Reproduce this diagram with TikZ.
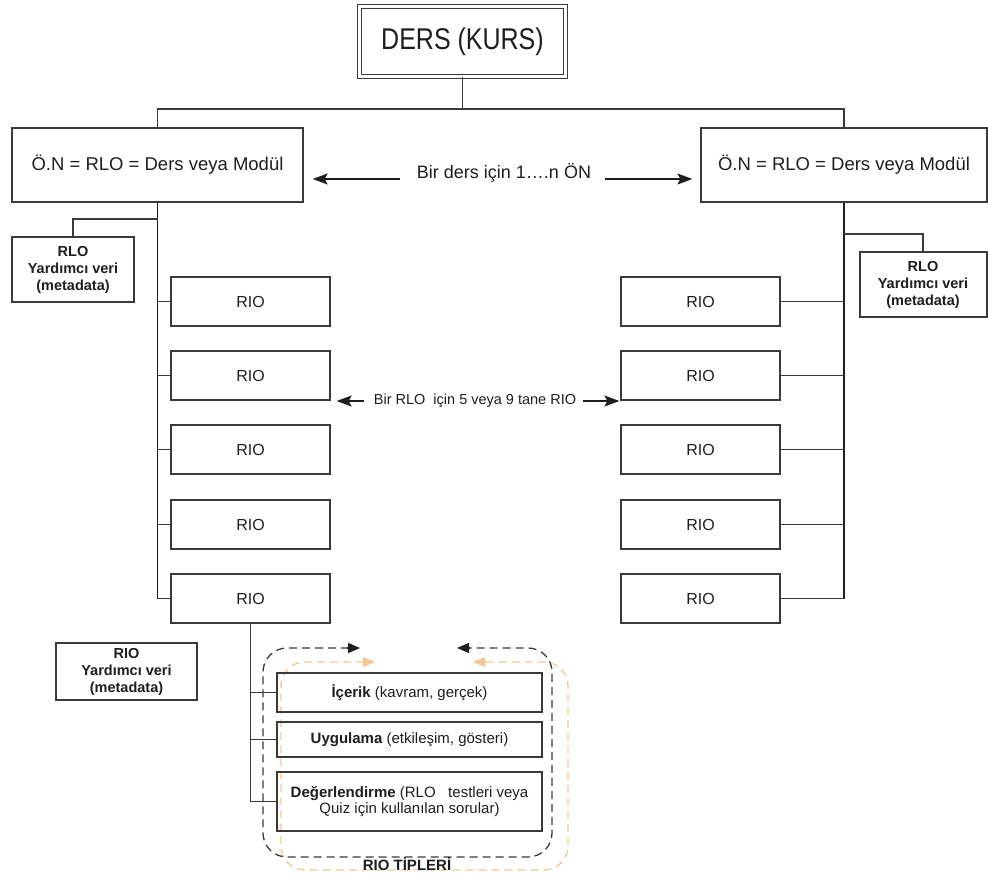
\documentclass[tikz,border=0pt]{standalone}
\usepackage{fontspec}
\usepackage{graphicx}
\setmainfont{Liberation Sans}
\usetikzlibrary{arrows.meta}

\definecolor{edge}{HTML}{3A3A3A}
\definecolor{ink}{HTML}{1E1E1E}
\definecolor{peach}{HTML}{F6C796}

\tikzset{
  box/.style={draw=edge, line width=1.3pt, fill=none, inner sep=0pt, align=center, text=ink},
  riobox/.style={box, minimum width=159pt, minimum height=49pt, font=\fontsize{16}{19}\selectfont},
  onbox/.style={box, minimum height=74pt, font=\fontsize{18.5}{22}\selectfont},
  metabox/.style={box, font=\bfseries\fontsize{14.5}{17}\selectfont},
  typebox/.style={box, minimum width=265pt, font=\fontsize{15}{16.5}\selectfont},
  trunk/.style={draw=ink, line width=1.6pt},
  branch/.style={draw=edge, line width=1.1pt},
  bigarrow/.style={draw=ink, line width=1.3pt, -{Stealth[length=15pt,width=11pt,inset=3pt]}},
  label/.style={text=ink, inner sep=0pt},
  loopblack/.style={draw=edge, line width=1.3pt, dash pattern=on 8pt off 5pt, rounded corners=24pt},
  looppeach/.style={draw=peach, line width=1.3pt, dash pattern=on 8pt off 5pt, rounded corners=24pt},
  tipblack/.style={draw=ink, line width=1.3pt, -{Triangle[length=12pt,width=10pt]}},
  tippeach/.style={draw=peach, line width=1.3pt, -{Triangle[length=12pt,width=10pt,fill=peach]}},
}

\begin{document}
\begin{tikzpicture}[x=1pt,y=-1pt]
\useasboundingbox (0,0) rectangle (988,875);

% course box at the top
\node[box, draw=edge, line width=1.2pt, double=white, double distance=2.4pt,
      minimum width=206pt, minimum height=70pt] (ders) at (462.5,41.5)
      {\scalebox{1}[1.2]{\fontsize{25}{30}\selectfont DERS (KURS)}};

% learning objects
\node[onbox, minimum width=291pt] (onL) at (157.5,165) {Ö.N = RLO = Ders veya Modül};
\node[onbox, minimum width=286pt] (onR) at (844,165) {Ö.N = RLO = Ders veya Modül};

\coordinate (top) at (462.5,109);
\draw[branch, line width=1.4pt] (ders.south) -- (top);
\draw[branch, line width=1.4pt] (onL.north) -- (onL.north |- top) -- (onR.north |- top) -- (onR.north);

% span label between the two objects
\node[label, font=\fontsize{18}{21}\selectfont] (lblON) at (504,173) {Bir ders için 1….n ÖN};
\coordinate (aL) at (400,179);
\coordinate (aR) at (605,179);
\draw[bigarrow, shorten >=9pt] (aL) -- (onL.east |- aL);
\draw[bigarrow, shorten >=8pt] (aR) -- (onR.west |- aR);

% metadata boxes of the learning objects
\node[metabox, line width=2pt, minimum width=122pt, minimum height=65pt] (metaL) at (73,269.5)
  {RLO\\Yardımcı veri\\(metadata)};
\node[metabox, line width=2pt, minimum width=127pt, minimum height=65pt] (metaR) at (923,284.5)
  {RLO\\Yardımcı veri\\(metadata)};

% reusable information objects
\foreach \i/\y in {1/301.5, 2/375.5, 3/449.5, 4/524.5, 5/598.5}{
  \node[riobox] (rioL\i) at (250.5,\y) {RIO};
  \node[riobox] (rioR\i) at (700.5,\y) {RIO};
}

% trunks and branches
\draw[trunk] (onL.south) -- (onL.south |- rioL5.west);
\draw[trunk] (onR.south) -- (onR.south |- rioR5.east);
\foreach \i in {1,...,5}{
  \draw[branch] (onL.south |- rioL\i.west) -- (rioL\i.west);
  \draw[branch] (rioR\i.east) -- (onR.south |- rioR\i.east);
}
\coordinate (jL) at (157.5,219);
\coordinate (jR) at (844,234);
\draw[branch] (jL) -| (metaL.north);
\draw[branch] (jR) -| (metaR.north);

% span label between the two columns
\node[label, font=\fontsize{14.5}{17}\selectfont] (lblRIO) at (475,401) {Bir RLO \ için 5 veya 9 tane RIO};
\coordinate (mL) at (364,401);
\coordinate (mR) at (583,401);
\draw[bigarrow, shorten >=6pt] (mL) -- (rioL2.east |- mL);
\draw[bigarrow, shorten >=1pt] (mR) -- (rioR2.west |- mR);

% metadata box of the information object
\node[metabox, line width=1.2pt, minimum width=141pt, minimum height=57pt] (metaRIO) at (126.5,671.5)
  {RIO\\Yardımcı veri\\(metadata)};

% dashed cycles around the RIO types
\draw[looppeach] (364,662) -- (281,662) -- (281,870) -- (568,870) -- (568,662) -- (484,662);
\draw[tippeach] (362,662) -- (375,662);
\draw[tippeach] (486,662) -- (473,662);
\draw[loopblack] (349,648) -- (263,648) -- (263,857) -- (552,857) -- (552,648) -- (468,648);
\draw[tipblack] (347,648) -- (360,648);
\draw[tipblack] (470,648) -- (457,648);

% RIO types
\node[typebox, minimum height=39pt] (c1) at (409.5,692.5) {\textbf{İçerik} (kavram, gerçek)};
\node[typebox, minimum height=35pt] (c2) at (409.5,739.5) {\textbf{Uygulama} (etkileşim, gösteri)};
\node[typebox, minimum height=59pt] (c3) at (409.5,801.5)
  {\textbf{Değerlendirme} (RLO \ \ testleri veya\\Quiz için kullanılan sorular)};

\draw[branch, line width=1.4pt] (rioL5.south) -- (rioL5.south |- c3.west) -- (c3.west);
\draw[branch] (rioL5.south |- c1.west) -- (c1.west);
\draw[branch] (rioL5.south |- c2.west) -- (c2.west);

\node[label, font=\bfseries\fontsize{15}{17}\selectfont] (types) at (407,864) {RIO TİPLERİ};
\end{tikzpicture}
\end{document}
